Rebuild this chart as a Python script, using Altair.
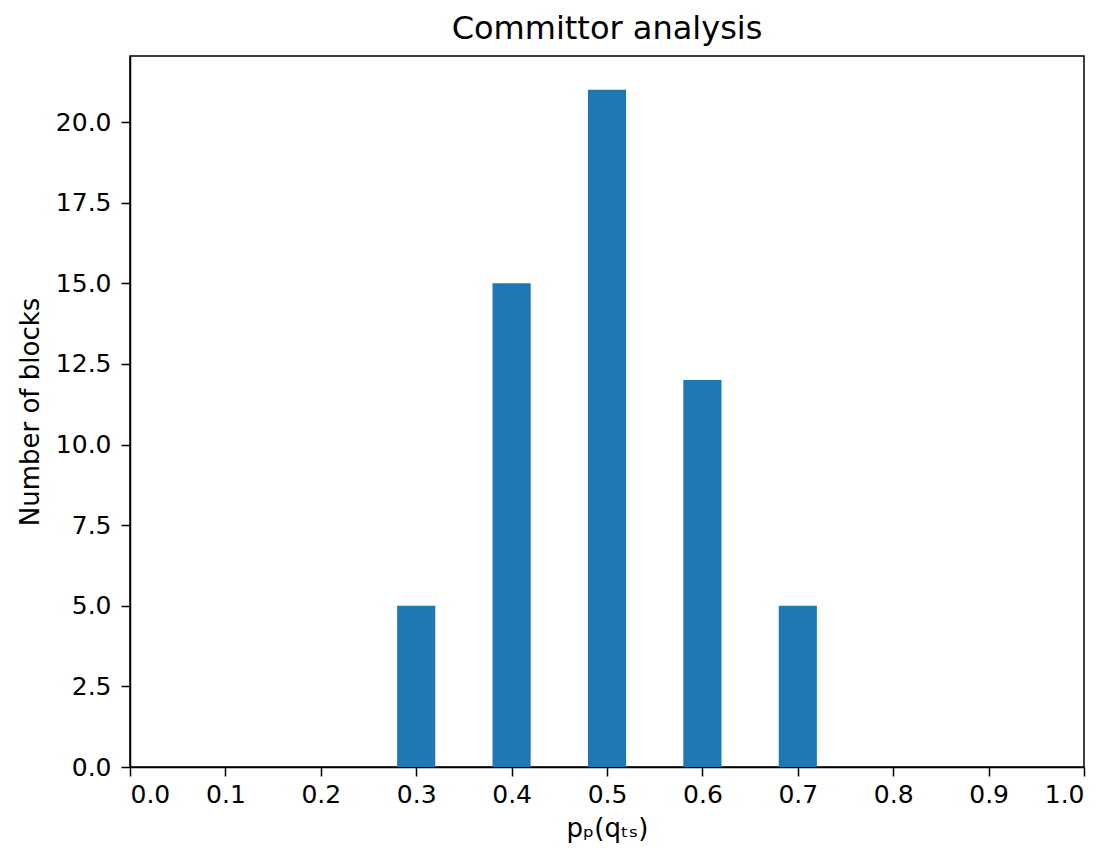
import altair as alt
import pandas as pd

# Histogram bins (left edge, right edge) and counts
bin_start = [0.28, 0.38, 0.48, 0.58, 0.68]
bin_end = [0.32, 0.42, 0.52, 0.62, 0.72]
counts = [5, 15, 21, 12, 5]

x_ticks = [0.0, 0.1, 0.2, 0.3, 0.4, 0.5, 0.6, 0.7, 0.8, 0.9, 1.0]
y_ticks = [0.0, 2.5, 5.0, 7.5, 10.0, 12.5, 15.0, 17.5, 20.0]

df = pd.DataFrame({"start": bin_start, "end": bin_end, "count": counts})

FONT = "DejaVu Sans"

chart = (
    alt.Chart(df)
    .mark_bar(color="#1f77b4")
    .encode(
        x=alt.X(
            "start:Q",
            scale=alt.Scale(domain=[0, 1], nice=False, zero=False),
            axis=alt.Axis(
                values=x_ticks,
                format=".1f",
                title="pₚ(qₜₛ)",
                grid=False,
                labelFontSize=25,
                titleFontSize=26,
                titlePadding=8,
                labelPadding=6,
            ),
        ),
        x2="end:Q",
        y=alt.Y(
            "count:Q",
            scale=alt.Scale(domain=[0, 22.05], nice=False, zero=True),
            axis=alt.Axis(
                values=y_ticks,
                format=".1f",
                title="Number of blocks",
                grid=False,
                labelFontSize=25,
                titleFontSize=26,
                titlePadding=12,
                labelPadding=10,
            ),
        ),
        y2=alt.datum(0),
    )
    .properties(
        width=954,
        height=711,
        title=alt.TitleParams(
            "Committor analysis",
            fontSize=32,
            fontWeight="normal",
            font=FONT,
            color="black",
            anchor="middle",
            offset=10,
        ),
        autosize=alt.AutoSizeParams(type="none"),
        padding={"left": 122, "top": 48, "right": 16, "bottom": 79},
    )
    .configure_view(stroke="black", strokeWidth=1.5)
    .configure_axis(
        domainColor="black",
        domainWidth=1.5,
        tickColor="black",
        tickWidth=1.5,
        tickSize=9,
        labelColor="black",
        titleColor="black",
        labelFont=FONT,
        titleFont=FONT,
        titleFontWeight="normal",
    )
)

chart.save("out.html", embed_options={"renderer": "svg", "actions": False})
